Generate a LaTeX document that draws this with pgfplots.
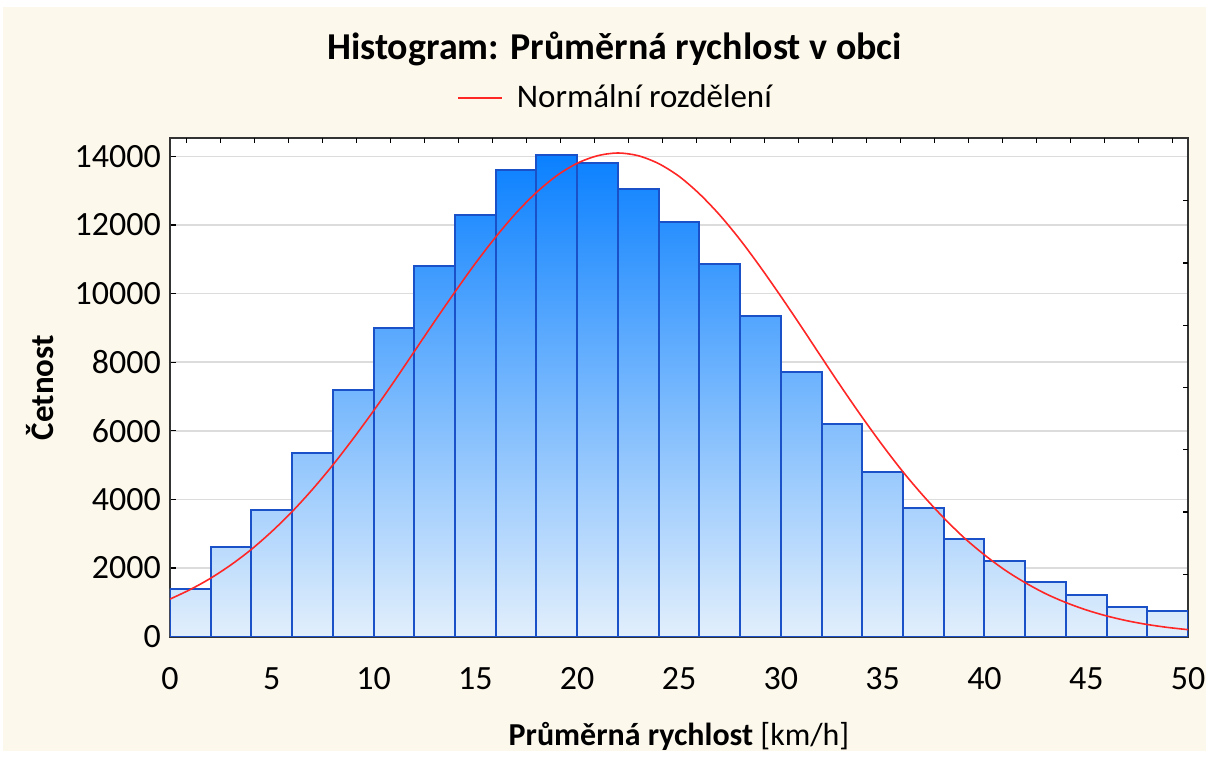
\documentclass[border=0pt]{standalone}
\usepackage{fontspec}
\setmainfont{Carlito}
\usepackage{pgfplots}
\pgfplotsset{compat=1.18}
\definecolor{cream}{HTML}{FDF8EC}
\definecolor{barTop}{HTML}{0A80FF}
\definecolor{barBot}{HTML}{E2EFFC}
\definecolor{barLine}{HTML}{1A50C8}
\definecolor{curveRed}{HTML}{FF2626}
\definecolor{gridGray}{HTML}{DCDCDC}
\definecolor{axisGray}{HTML}{333333}

% histogram: bin start, count (last row closes the last bin)
\pgfplotstableread{
x    n
0    1400
2    2600
4    3700
6    5350
8    7200
10   9000
12   10800
14   12300
16   13600
18   14050
20   13800
22   13050
24   12100
26   10850
28   9350
30   7700
32   6200
34   4800
36   3750
38   2850
40   2200
42   1600
44   1200
46   870
48   730
50   730
}\hist

% fitted normal curve
\pgfplotstableread{
x    y
0    1090
1    1370
2    1700
3    2090
4    2540
5    3060
6    3640
7    4290
8    5000
9    5770
10   6580
11   7430
12   8310
13   9190
14   10050
15   10880
16   11650
17   12350
18   12950
19   13440
20   13800
21   14020
22   14100
23   14020
24   13790
25   13420
26   12910
27   12290
28   11570
29   10770
30   9920
31   9040
32   8140
33   7250
34   6390
35   5570
36   4800
37   4100
38   3460
39   2880
40   2380
41   1940
42   1570
43   1250
44   990
45   775
46   600
47   460
48   350
49   265
50   200
}\normal

\begin{document}
\begin{tikzpicture}
% page and background (1 px = 0.5 pt, axis origin at px (170,637))
\fill[white] (-85pt,-61pt) rectangle (521pt,318.5pt);
\fill[cream] (-83.5pt,-57.5pt) rectangle (518.5pt,315pt);

\begin{axis}[
    at={(0,0)}, anchor=south west,
    scale only axis, width=509.5pt, height=249.5pt,
    xmin=0, xmax=50, ymin=0, ymax=14540,
    xtick={0,5,...,50}, ytick={0,2000,...,14000},
    xtick pos=bottom, ytick pos=left,
    tick align=inside, major tick length=3pt,
    ymajorgrids, grid style={draw=gridGray, line width=0.8pt},
    axis line style={draw=axisGray, line width=1pt},
    tick style={draw=black, line width=0.6pt},
    axis background/.style={fill=white},
    scaled y ticks=false,
    /pgf/number format/1000 sep={},
    /pgf/number format/assume math mode=true,
    ticklabel style={font=\fontsize{17}{17}\selectfont},
    xticklabel style={yshift=-12pt},
    yticklabel style={xshift=-1pt},
    title={Histogram: Průměrná rychlost v obci},
    title style={at={(0.4367,1.154)}, anchor=center,
        font=\bfseries\fontsize{19}{20}\selectfont},
    xlabel={\textbf{Průměrná rychlost} [km/h]},
    xlabel style={at={(0.5,-0.2)}, anchor=center,
        font=\fontsize{16}{17}\selectfont},
    ylabel={Četnost},
    ylabel style={at={(-0.1276,0.499)}, anchor=center,
        font=\bfseries\fontsize{16.5}{17}\selectfont},
    legend style={at={(0.4387,1.080)}, anchor=center, draw=none, fill=none,
        font=\fontsize{16.5}{17}\selectfont},
    legend image code/.code={\draw[#1] (0pt,0pt) -- (22pt,0pt);},
    legend cell align=left,
]
% gradient spans the whole histogram, dark at the top
\addplot[const plot, draw=none, top color=barTop, bottom color=barBot, forget plot]
    table[x=x, y=n] {\hist} \closedcycle;
\addplot[ybar interval, draw=barLine, line width=1pt, fill=none, forget plot]
    table[x=x, y=n] {\hist};
\addplot[curveRed, line width=0.8pt, smooth] table[x=x, y=y] {\normal};
\addlegendentry{\hspace{5pt}Normální rozdělení}
\end{axis}

% opposite ticks (top and right), no labels
\begin{axis}[
    at={(0,0)}, anchor=south west,
    scale only axis, width=509.5pt, height=249.5pt,
    xmin=0, xmax=50, ymin=0, ymax=14540,
    axis x line*=top, axis y line*=right,
    axis line style={draw=none},
    scaled x ticks=false, scaled y ticks=false,
    tick align=inside, major tick length=2.5pt,
    tick style={draw=black, line width=0.6pt},
    xtick={0.82,2.49,4.16,5.83,7.50,9.17,10.84,12.51,14.18,15.85,
           17.52,19.19,20.86,22.53,24.20,25.87,27.54,29.21,30.88,32.55,
           34.22,35.89,37.56,39.23,40.90,42.57,44.24,45.91,47.58,49.25},
    ytick={1815,3630,5445,7260,9075,10890,12705},
    xticklabels={}, yticklabels={},
]
\addplot[draw=none] coordinates {(0,0)};
\end{axis}
\end{tikzpicture}
\end{document}
